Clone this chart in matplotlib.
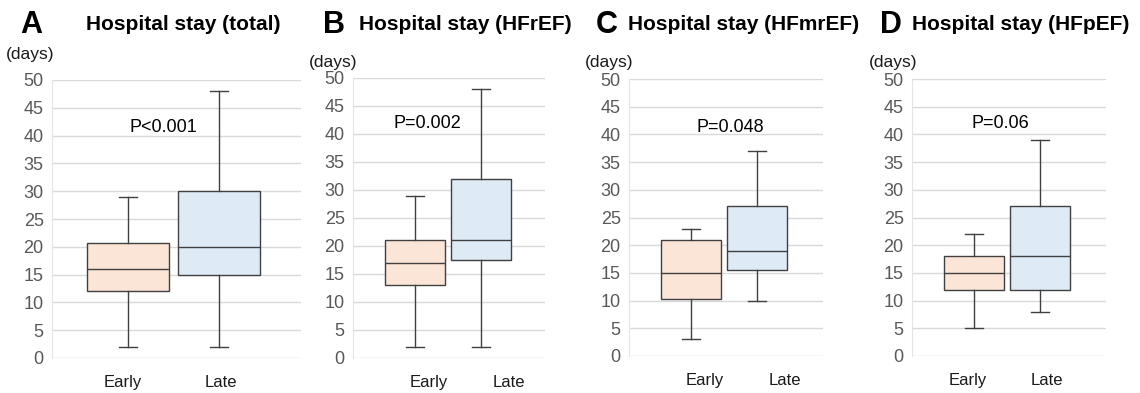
import matplotlib
matplotlib.use("Agg")
import matplotlib.pyplot as plt

plt.rcParams['font.family'] = ['Liberation Sans', 'DejaVu Sans']

# hospital stay (days) per group: whisker low, Q1, median, Q3, whisker high
groups = ["Early", "Late"]
letters = ["A", "B", "C", "D"]
titles = ["Hospital stay (total)", "Hospital stay (HFrEF)",
          "Hospital stay (HFmrEF)", "Hospital stay (HFpEF)"]

early_low = [2, 2, 3, 5]
early_q1 = [12, 13, 10.3, 12]
early_med = [16, 17, 15, 15]
early_q3 = [20.7, 21, 21, 18]
early_high = [29, 29, 23, 22]

late_low = [2, 2, 10, 8]
late_q1 = [15, 17.5, 15.5, 12]
late_med = [20, 21, 19, 18]
late_q3 = [30, 32, 27, 27]
late_high = [48, 48, 37, 39]

p_text = ["P<0.001", "P=0.002", "P=0.048", "P=0.06"]
p_xpos = [1.39, 1.2, 1.6, 1.4]
p_ypos = [41.5, 41.8, 41.2, 42]

W, H = 1140, 393
# axes boxes in pixels: left, right, y of 0, y of 50
frames = [(52, 301, 358, 80), (353, 545, 358, 78),
          (629, 823, 356, 79), (912, 1106, 356, 79)]
xlims = [(0.165, 2.9), (0.075, 2.96), (0.06, 3.0), (0.06, 3.0)]
# category labels sit a little off the box centres
label_pos = [(0.945, 2.02), (1.218, 2.41), (1.21, 2.42), (0.91, 2.105)]
letter_x = [20, 323, 596, 880]
title_x = [86, 359, 628, 912]
days_x = [6, 309, 585, 869]
days_y = [55, 62, 62, 62]

fill_colors = ["#fbe5d6", "#deebf7"]
edge = "#404040"

fig = plt.figure(figsize=(W / 100, H / 100), dpi=100)

for i in range(4):
    left, right, y0, y50 = frames[i]
    # y axis spans 0..50 between y0 and y50 pixels
    ax = fig.add_axes([left / W, 1 - y0 / H, (right - left) / W, (y0 - y50) / H])
    stats = [
        dict(whislo=early_low[i], q1=early_q1[i], med=early_med[i],
             q3=early_q3[i], whishi=early_high[i], fliers=[]),
        dict(whislo=late_low[i], q1=late_q1[i], med=late_med[i],
             q3=late_q3[i], whishi=late_high[i], fliers=[]),
    ]
    px_per_unit = (right - left) / (xlims[i][1] - xlims[i][0])
    cw = 18 / px_per_unit
    bp = ax.bxp(stats, positions=[1, 2], widths=0.9, capwidths=[cw, cw],
                patch_artist=True, showfliers=False,
                boxprops=dict(edgecolor=edge, linewidth=1.0),
                medianprops=dict(color=edge, linewidth=1.0),
                whiskerprops=dict(color=edge, linewidth=1.0),
                capprops=dict(color=edge, linewidth=1.0))
    for patch, c in zip(bp['boxes'], fill_colors):
        patch.set_facecolor(c)
        patch.set_zorder(3)
    for k in ('medians', 'whiskers', 'caps'):
        for ln in bp[k]:
            ln.set_zorder(4)

    ax.set_xlim(*xlims[i])
    ax.set_ylim(0, 50)
    ax.set_yticks(range(0, 51, 5))
    ax.set_xticks(label_pos[i])
    ax.set_xticklabels(groups, fontsize=12, color="#1a1a1a")
    ax.tick_params(axis='y', length=0, labelsize=13, labelcolor="#595959", pad=6)
    ax.tick_params(axis='x', length=0, pad=12)
    ax.grid(axis='y', color="#d9d9d9", linewidth=1.0, zorder=0)
    ax.set_axisbelow(True)
    for s in ('top', 'right', 'bottom'):
        ax.spines[s].set_visible(False)
    ax.spines['left'].set_color("#e4e4e4")
    ax.spines['left'].set_linewidth(0.8)

    ax.text(p_xpos[i], p_ypos[i], p_text[i], ha='center', va='center',
            fontsize=13, color="black")

    fig.text(letter_x[i] / W, 1 - 25 / H, letters[i], fontsize=22,
             fontweight='bold', va='center', ha='left')
    fig.text(title_x[i] / W, 1 - 24 / H, titles[i], fontsize=15,
             fontweight='bold', va='center', ha='left')
    fig.text(days_x[i] / W, 1 - days_y[i] / H, "(days)", fontsize=12.5,
             va='center', ha='left', color="#1a1a1a")

fig.savefig("out.png", dpi=100)
